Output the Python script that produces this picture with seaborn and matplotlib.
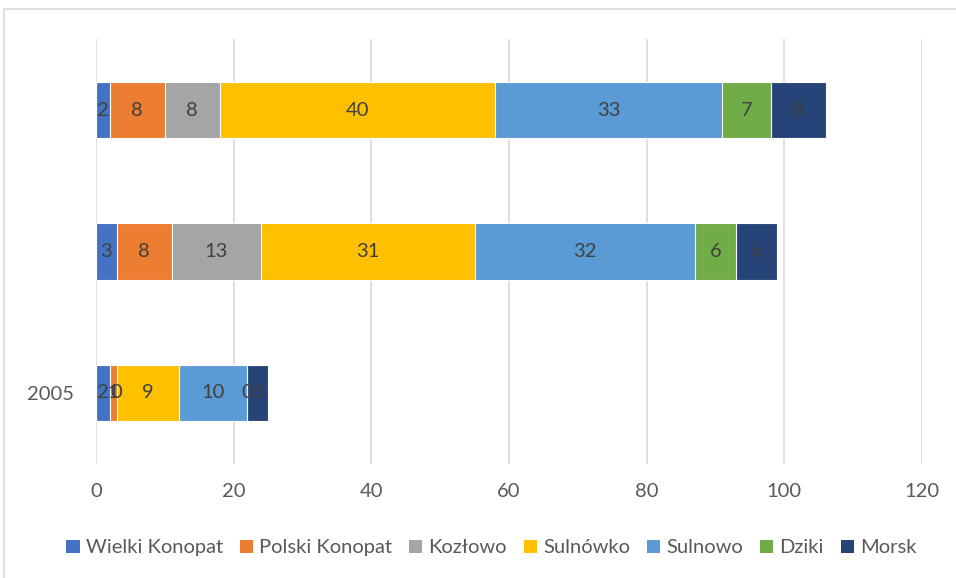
import seaborn as sns
import numpy as np
import matplotlib.pyplot as plt
import pandas as pd
from matplotlib.patches import Patch, Rectangle

# rows from bottom to top; only the first one carries a label in the source
rows = ["r1", "r2", "r3"]
row_labels = ["2005", "", ""]
villages = ["Wielki Konopat", "Polski Konopat", "Kozłowo", "Sulnówko", "Sulnowo", "Dziki", "Morsk"]
values = {
    "Wielki Konopat": [2, 3, 2],
    "Polski Konopat": [1, 8, 8],
    "Kozłowo": [0, 13, 8],
    "Sulnówko": [9, 31, 40],
    "Sulnowo": [10, 32, 33],
    "Dziki": [0, 6, 7],
    "Morsk": [3, 6, 8],
}
colors = ["#4472C4", "#ED7D31", "#A5A5A5", "#FFC000", "#5B9BD5", "#70AD47", "#264478"]
xticks = [0, 20, 40, 60, 80, 100, 120]

sns.set_style("white")
plt.rcParams["font.family"] = ["Lato", "DejaVu Sans"]
fs = 14.5

df = pd.DataFrame(values, index=rows)
cum = df.cumsum(axis=1)

fig = plt.figure(figsize=(9.56, 5.78), dpi=100)
ax = fig.add_axes([0.1004, 0.198, 0.8640, 0.7337])

# stacked: draw running totals from the longest down so each segment shows
for name, col in reversed(list(zip(villages, colors))):
    sns.barplot(x=cum[name].values, y=rows, order=rows[::-1], color=col,
                orient="h", width=0.4, edgecolor="white", linewidth=0.8,
                saturation=1, ax=ax)

for name in villages:
    for r in rows:
        v = df.loc[r, name]
        ax.text(cum.loc[r, name] - v / 2, rows[::-1].index(r), str(v),
                ha="center", va="center", fontsize=fs, color="#404040")

ax.set_xlim(0, 120)
ax.set_xticks(xticks)
ax.set_xticklabels([str(t) for t in xticks], fontsize=fs, color="#595959")
ax.set_yticks(range(len(rows)))
ax.set_yticklabels(row_labels[::-1], fontsize=fs, color="#595959")
ax.set_xlabel("")
ax.set_ylabel("")
ax.tick_params(axis="x", length=0, pad=14)
ax.tick_params(axis="y", length=0, pad=16)
ax.xaxis.grid(True, color="#D9D9D9", linewidth=1.2)
ax.set_axisbelow(True)
for s in ax.spines.values():
    s.set_visible(False)

handles = [Patch(facecolor=c, edgecolor="none") for c in colors]
fig.legend(handles, villages, loc="center", bbox_to_anchor=(0.514, 0.052), ncol=7,
           frameon=False, fontsize=fs, handlelength=0.65, handleheight=0.65,
           handletextpad=0.3, columnspacing=0.85, labelcolor="#595959")

fig.patches.append(Rectangle((4 / 956, -0.01), 1.0, 1 - 9 / 578 + 0.01,
                             transform=fig.transFigure, fill=False,
                             edgecolor="#D9D9D9", linewidth=1.2))

fig.savefig("out.png", dpi=100)
